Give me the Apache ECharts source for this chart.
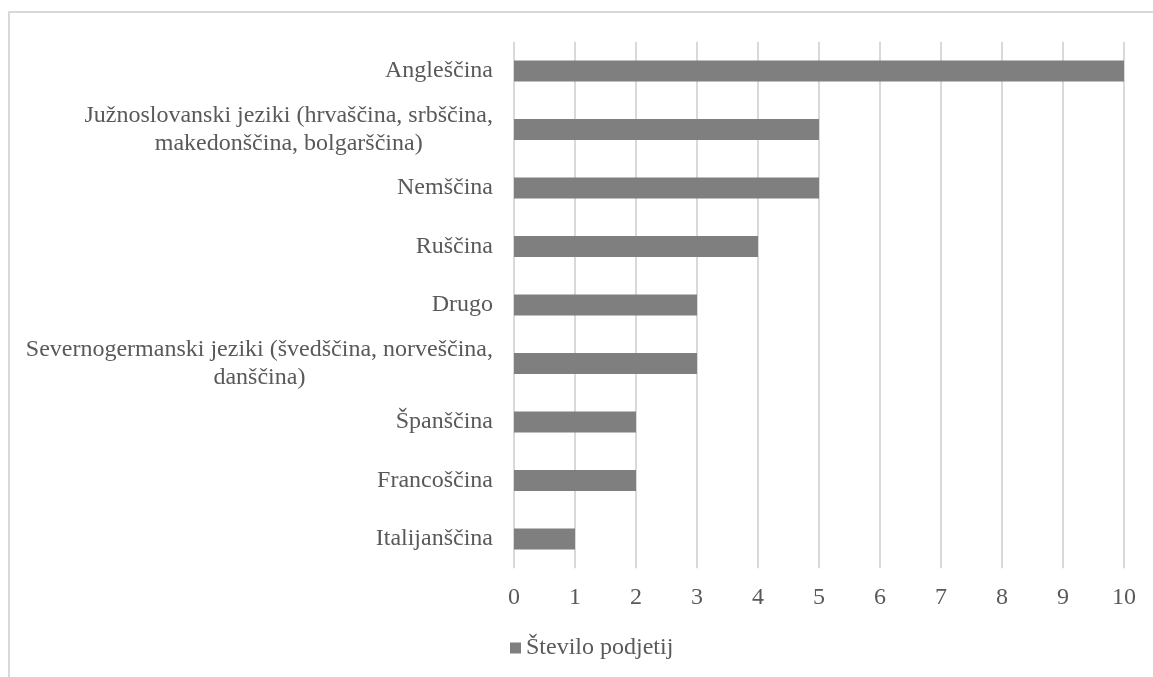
<!DOCTYPE html>
<html>
<head>
<meta charset="utf-8">
<script src="https://cdn.jsdelivr.net/npm/echarts@6/dist/echarts.min.js"></script>
<style>
html,body{margin:0;padding:0;background:#fff;}
#chart{width:1153px;height:677px;}
</style>
</head>
<body>
<div id="chart"></div>
<script>
const categories = [
  "Angleščina",
  "Južnoslovanski jeziki (hrvaščina, srbščina,\nmakedonščina, bolgarščina)",
  "Nemščina",
  "Ruščina",
  "Drugo",
  "Severnogermanski jeziki (švedščina, norveščina,\ndanščina)",
  "Španščina",
  "Francoščina",
  "Italijanščina"
];
const values = [10, 5, 5, 4, 3, 3, 2, 2, 1];
const seriesName = "Število podjetij";
const xTicks = [0, 1, 2, 3, 4, 5, 6, 7, 8, 9, 10];

const FONT = "'Liberation Serif', 'Times New Roman', serif";
const TXT = '#595959';

const chart = echarts.init(document.getElementById('chart'));
chart.setOption({
  animation: false,
  backgroundColor: '#ffffff',
  graphic: [{
    type: 'rect',
    shape: { x: 9, y: 12, width: 2000, height: 2000 },
    style: { fill: 'none', stroke: '#d9d9d9', lineWidth: 2 },
    silent: true
  }],
  grid: { left: 514, right: 29, top: 41.75, bottom: 108.75, containLabel: false },
  xAxis: {
    type: 'value',
    min: xTicks[0],
    max: xTicks[xTicks.length - 1],
    interval: 1,
    axisLine: { show: false },
    axisTick: { show: false },
    splitLine: { show: true, lineStyle: { color: '#d9d9d9', width: 2 } },
    axisLabel: { color: TXT, fontFamily: FONT, fontSize: 24, margin: 17 }
  },
  yAxis: {
    type: 'category',
    inverse: true,
    data: categories,
    axisLine: { show: false },
    axisTick: { show: false },
    splitLine: { show: false },
    axisLabel: {
      margin: 21,
      formatter: function (v) {
        return v.split('\n').map(function (l) { return '{c|' + l + '}'; }).join('\n');
      },
      rich: {
        c: { align: 'center', color: TXT, fontFamily: FONT, fontSize: 24, lineHeight: 28 }
      }
    }
  },
  legend: {
    data: [seriesName],
    left: 505,
    top: 631,
    icon: 'rect',
    itemWidth: 11,
    itemHeight: 11,
    textStyle: { color: TXT, fontFamily: FONT, fontSize: 24 }
  },
  series: [{
    name: seriesName,
    type: 'bar',
    data: values,
    barWidth: 21,
    itemStyle: { color: '#7f7f7f' }
  }]
});
</script>
</body>
</html>
